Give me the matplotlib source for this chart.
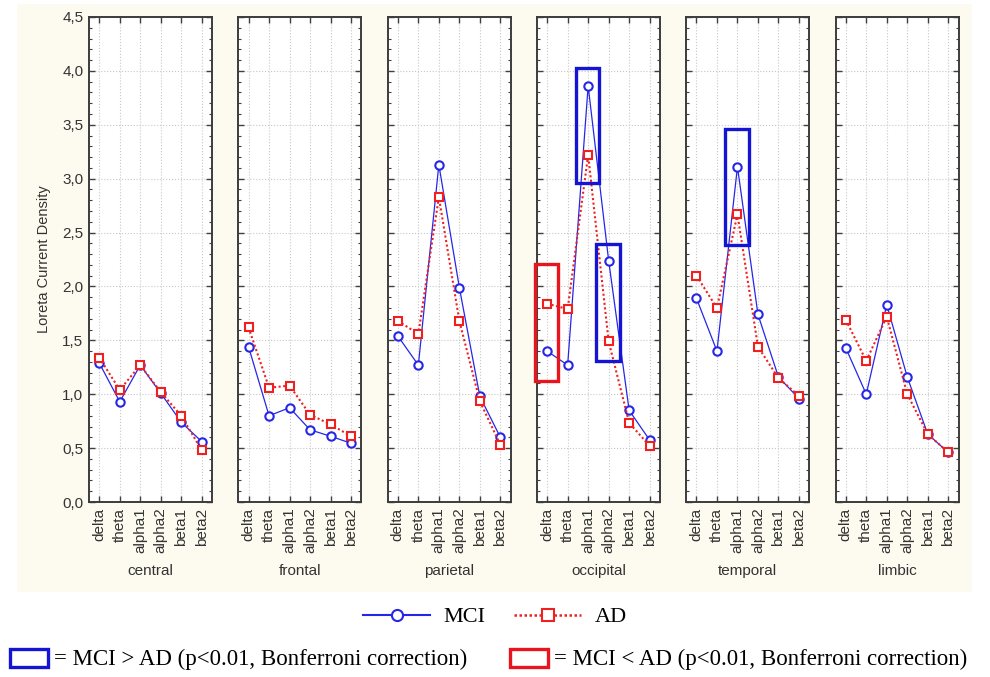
import matplotlib.pyplot as plt
from matplotlib.patches import Rectangle
from matplotlib.lines import Line2D
from matplotlib.ticker import MultipleLocator

bands = ["delta", "theta", "alpha1", "alpha2", "beta1", "beta2"]
regions = ["central", "frontal", "parietal", "occipital", "temporal", "limbic"]

# loreta current density per band
mci_central = [1.29, 0.93, 1.27, 1.01, 0.74, 0.56]
ad_central = [1.34, 1.04, 1.27, 1.02, 0.80, 0.48]
mci_frontal = [1.44, 0.80, 0.875, 0.67, 0.61, 0.545]
ad_frontal = [1.62, 1.06, 1.08, 0.81, 0.72, 0.61]
mci_parietal = [1.54, 1.27, 3.13, 1.99, 0.98, 0.60]
ad_parietal = [1.68, 1.56, 2.83, 1.68, 0.935, 0.53]
mci_occipital = [1.40, 1.27, 3.86, 2.24, 0.85, 0.575]
ad_occipital = [1.84, 1.79, 3.22, 1.49, 0.735, 0.52]
mci_temporal = [1.89, 1.40, 3.11, 1.74, 1.16, 0.96]
ad_temporal = [2.10, 1.80, 2.67, 1.44, 1.15, 0.985]
mci_limbic = [1.43, 1.00, 1.83, 1.16, 0.63, 0.46]
ad_limbic = [1.69, 1.31, 1.72, 1.00, 0.63, 0.46]

mci = [mci_central, mci_frontal, mci_parietal, mci_occipital, mci_temporal, mci_limbic]
ad = [ad_central, ad_frontal, ad_parietal, ad_occipital, ad_temporal, ad_limbic]

# significant differences: (region, band, low, high, direction)
sig_region = ["occipital", "occipital", "occipital", "temporal"]
sig_band = ["delta", "alpha1", "alpha2", "alpha1"]
sig_low = [1.12, 2.96, 1.31, 2.38]
sig_high = [2.21, 4.03, 2.39, 3.46]
sig_dir = ["lt", "gt", "gt", "gt"]

BLUE = "#2626e8"
RED = "#f02020"
BOX_BLUE = "#1414d2"
BOX_RED = "#e8141e"
W, H = 990, 677

fig = plt.figure(figsize=(9.9, 6.77), dpi=100)
fig.patch.set_facecolor("white")
# cream panel behind the plots
fig.patches.append(Rectangle((17 / W, 1 - 592 / H), 955 / W, 588 / H,
                             transform=fig.transFigure, facecolor="#fdfbf0",
                             edgecolor="none", zorder=-5))

x = list(range(len(bands)))
axes = []
for i, reg in enumerate(regions):
    ax = fig.add_axes([(89 + i * 149.3) / W, 1 - 502 / H, 123 / W, 485 / H])
    axes.append(ax)
    ax.plot(x, mci[i], color=BLUE, lw=0.9, marker="o", ms=6, mfc="white",
            mec=BLUE, mew=1.5, zorder=3)
    ax.plot(x, ad[i], color=RED, lw=1.5, ls=(0, (1, 1.2)), marker="s", ms=6,
            mfc="white", mec=RED, mew=1.5, zorder=4)
    ax.set_xlim(-0.5, 5.5)
    ax.set_ylim(0, 4.5)
    ax.set_xticks(x)
    ax.set_xticklabels(bands, rotation=90, fontsize=11, color="#333333",
                       family="Liberation Sans")
    ax.yaxis.set_major_locator(MultipleLocator(0.5))
    ax.yaxis.set_minor_locator(MultipleLocator(0.1))
    ax.tick_params(which="both", direction="in", left=True, right=True,
                   top=True, bottom=True, color="#404040")
    ax.tick_params(which="major", length=4, width=1, pad=4)
    ax.tick_params(which="minor", length=2, width=0.8)
    ax.grid(True, which="major", color="#c8c8c8", ls=":", lw=0.8)
    for s in ax.spines.values():
        s.set_color("#3c3c3c")
        s.set_linewidth(1.4)
    ax.set_xlabel(reg, fontsize=11, color="#333333", labelpad=8,
                  family="Liberation Sans")
    if i == 0:
        ax.set_yticks([k * 0.5 for k in range(10)])
        ax.set_yticklabels([f"{k * 0.5:.1f}".replace(".", ",") for k in range(10)],
                           fontsize=11, color="#333333", family="Liberation Sans")
        ax.set_ylabel("Loreta Current Density", fontsize=10.5, color="#333333",
                      labelpad=8, family="Liberation Sans")
    else:
        ax.tick_params(labelleft=False)

for reg, band, lo, hi, d in zip(sig_region, sig_band, sig_low, sig_high, sig_dir):
    ax = axes[regions.index(reg)]
    b = bands.index(band)
    c = BOX_RED if d == "lt" else BOX_BLUE
    ax.add_patch(Rectangle((b - 0.6, lo), 1.15, hi - lo, fill=False,
                           edgecolor=c, lw=2.4, clip_on=False, zorder=5))

handles = [Line2D([], [], color=BLUE, lw=1.5, marker="o", ms=8, mfc="white",
                  mec=BLUE, mew=1.5),
           Line2D([], [], color=RED, lw=1.8, ls=(0, (1, 1)), marker="s", ms=8,
                  mfc="white", mec=RED, mew=1.5)]
fig.legend(handles, ["MCI", "AD"], loc="center", ncol=2, frameon=False,
           bbox_to_anchor=(495 / W, 1 - 617 / H), handlelength=3.0,
           handletextpad=0.6, columnspacing=1.3,
           prop={"family": "Liberation Serif", "size": 16})

# significance key along the bottom
for x0, c, txt in [(10, BOX_BLUE, "= MCI > AD (p<0.01, Bonferroni correction)"),
                   (510, BOX_RED, "= MCI < AD (p<0.01, Bonferroni correction)")]:
    fig.patches.append(Rectangle((x0 / W, 1 - 667 / H), 38 / W, 18 / H,
                                 transform=fig.transFigure, fill=False,
                                 edgecolor=c, lw=2.4))
    fig.text((x0 + 44) / W, 1 - 659 / H, txt, fontsize=16.5,
             family="Liberation Serif", va="center", ha="left")

fig.savefig("out.png", dpi=100)
